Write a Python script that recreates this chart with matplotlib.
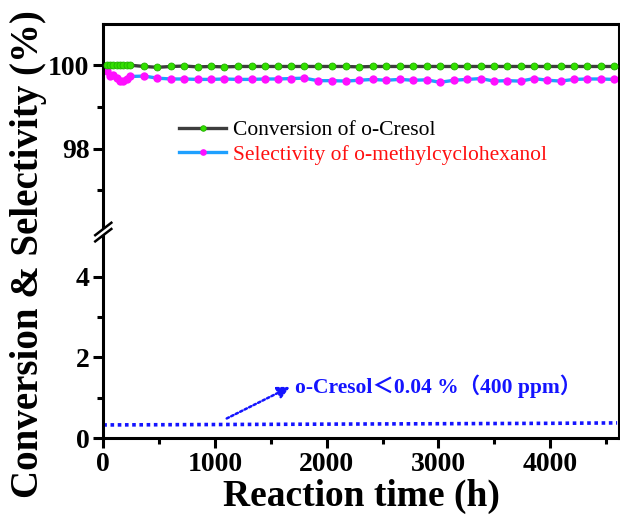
import matplotlib
matplotlib.use('agg')
import matplotlib.pyplot as plt
from matplotlib.ticker import MultipleLocator, FixedLocator
from matplotlib.lines import Line2D

plt.rcParams['font.family'] = ['Liberation Serif', 'DejaVu Sans']

# reaction time (h) of the sampled points
time_h = [30, 60, 90, 120, 150, 180, 210, 240,
          367, 483, 606, 725, 845, 964, 1083, 1209, 1328, 1447,
          1560, 1680, 1800, 1919, 2048, 2173, 2292, 2412, 2531, 2656,
          2776, 2895, 3014, 3140, 3259, 3379, 3498, 3617, 3737, 3856,
          3976, 4095, 4214, 4333, 4452, 4572]
conversion = [100.0, 100.0, 100.0, 100.0, 100.0, 100.0, 100.0, 100.0,
              99.97, 99.95, 99.97, 99.98, 99.96, 99.97, 99.96, 99.97, 99.97, 99.97,
              99.97, 99.97, 99.97, 99.97, 99.97, 99.97, 99.96, 99.97, 99.97, 99.97,
              99.97, 99.97, 99.97, 99.97, 99.97, 99.97, 99.97, 99.97, 99.97, 99.97,
              99.97, 99.97, 99.97, 99.97, 99.97, 99.97]
selectivity = [99.86, 99.74, 99.76, 99.70, 99.61, 99.63, 99.67, 99.73,
               99.74, 99.69, 99.67, 99.67, 99.66, 99.66, 99.67, 99.66, 99.66, 99.67,
               99.67, 99.68, 99.69, 99.63, 99.63, 99.62, 99.64, 99.66, 99.64, 99.66,
               99.64, 99.65, 99.59, 99.64, 99.66, 99.68, 99.62, 99.63, 99.62, 99.68,
               99.64, 99.62, 99.66, 99.67, 99.67, 99.66]

# residual o-cresol in the product
cresol_t = [0, 1000, 2000, 3000, 4000, 4600]
cresol_pct = [0.33, 0.34, 0.35, 0.36, 0.37, 0.38]

XMAX = 4615
fig = plt.figure(figsize=(6.2, 5.18), dpi=100)
L, R, B, T, MID = 0.1666, 0.998, 0.1539, 0.9546, 0.552
ax1 = fig.add_axes([L, MID, R - L, T - MID])
ax2 = fig.add_axes([L, B, R - L, MID - B])

conv_kw = dict(color='#3d3d3d', lw=2.4, marker='o', ms=5, mfc='#33e000', mec='#22b000', mew=0.6)
sel_kw = dict(color='#1ea0ff', lw=2.4, marker='o', ms=6, mfc='#ff10ff', mec='#ff10ff', mew=0)

ax1.plot(time_h, conversion, **conv_kw, zorder=3)
ax1.plot(time_h, selectivity, **sel_kw, zorder=2)
ax1.set_ylim(96, 101)
ax1.set_xlim(0, XMAX)

ax2.plot(cresol_t, cresol_pct, color='#1414ff', lw=2.6, ls=(0, (1, 1)))
ax2.set_ylim(0, 5.1)
ax2.set_xlim(0, XMAX)

ax1.spines['bottom'].set_visible(False)
ax2.spines['top'].set_visible(False)
ax1.set_xticks([])
ax1.yaxis.set_major_locator(FixedLocator([98, 100]))
ax1.yaxis.set_minor_locator(FixedLocator([97, 99]))
ax2.yaxis.set_major_locator(FixedLocator([0, 2, 4]))
ax2.yaxis.set_minor_locator(FixedLocator([1, 3, 5]))
ax2.xaxis.set_major_locator(MultipleLocator(1000))
ax2.xaxis.set_minor_locator(MultipleLocator(500))

for ax in (ax1, ax2):
    for s in ax.spines.values():
        s.set_linewidth(2.2)
    ax.tick_params(axis='both', which='major', direction='out', length=7, width=2.2,
                   labelsize=20, pad=3)
    ax.tick_params(axis='both', which='minor', direction='out', length=4, width=2.2)
    for lab in ax.get_yticklabels() + ax.get_xticklabels():
        lab.set_fontweight('bold')

ax2.set_xlabel('Reaction time (h)', fontsize=27, fontweight='bold', labelpad=1)
fig.text(0.046, 0.51, 'Conversion & Selectivity (%)', rotation=90, fontsize=28,
         fontweight='bold', ha='center', va='center')

# legend
h1 = Line2D([], [], **conv_kw)
h2 = Line2D([], [], **sel_kw)
leg = ax1.legend([h1, h2], ['Conversion of o-Cresol', 'Selectivity of o-methylcyclohexanol'],
                 loc='upper left', bbox_to_anchor=(0.109, 0.629), frameon=False,
                 fontsize=15.5, numpoints=1, handlelength=2.2, handletextpad=0.3,
                 labelspacing=0.2, markerscale=0.8)
leg.get_texts()[1].set_color('#ff1010')

# annotation
ax2.annotate('', xy=(1671, 1.27), xytext=(1105, 0.49),
             arrowprops=dict(arrowstyle='-|>', color='#1414ff', lw=1.8, ls=(0, (1, 1)),
                             mutation_scale=18, shrinkA=0, shrinkB=0))
ax2.text(1715, 1.29, 'o-Cresol＜0.04 %（400 ppm）', color='#1414ff', fontsize=15.5,
         fontweight='bold', va='center', ha='left',
         family=['Liberation Serif', 'Noto Sans CJK SC'])

# axis break marks on the left spine
dx, dy, gap = 0.013, 0.012, 0.006
fig.patches.append(plt.Polygon([[L - dx, MID - dy + gap], [L + dx, MID + dy + gap],
                                [L + dx, MID + dy - gap], [L - dx, MID - dy - gap]],
                               closed=True, transform=fig.transFigure,
                               facecolor='white', edgecolor='none', zorder=5))
for off in (gap, -gap):
    fig.lines.append(Line2D([L - dx, L + dx], [MID - dy + off, MID + dy + off],
                            transform=fig.transFigure, color='black', lw=1.8, zorder=6))

fig.savefig('out.png', dpi=100)
